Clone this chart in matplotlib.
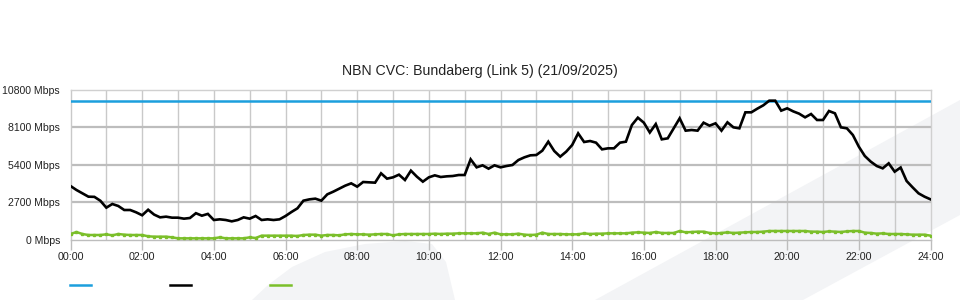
import numpy as np
import matplotlib
matplotlib.use("Agg")
import matplotlib.pyplot as plt
from matplotlib.lines import Line2D
from matplotlib.patches import Polygon

plt.rcParams['font.family'] = ['Liberation Sans', 'DejaVu Sans']

title = "NBN CVC: Bundaberg (Link 5) (21/09/2025)"

# sample times in minutes since midnight (10-minute samples)
minutes = list(range(0, 24 * 60 + 1, 10))

capacity_mbps = 10000

traffic_mbps = [
    3865, 3576, 3335, 3094, 3080, 2800,
    2300, 2565, 2420, 2131, 2131, 1962,
    1750, 2150, 1800, 1600, 1650, 1577,
    1577, 1505, 1553, 1900, 1720, 1850,
    1409, 1457, 1409, 1312, 1409, 1600,
    1505, 1697, 1409, 1457, 1409, 1457,
    1697, 1987, 2252, 2805, 2900, 2950,
    2805, 3263, 3455, 3672, 3889, 4057,
    3817, 4154, 4130, 4106, 4780, 4395,
    4491, 4684, 4298, 4973, 4539, 4178,
    4491, 4635, 4515, 4563, 4587, 4659,
    4659, 5791, 5213, 5358, 5117, 5358,
    5213, 5309, 5382, 5743, 5936, 6080,
    6104, 6417, 7067, 6393, 5984, 6345,
    6826, 7669, 7043, 7115, 6995, 6513,
    6586, 6586, 6995, 7067, 8271, 8801,
    8440, 7730, 8340, 7236, 7308, 8031,
    8753, 7862, 7910, 7862, 8440, 8223,
    8392, 7862, 8464, 8103, 8031, 9187,
    9187, 9452, 9692, 10029, 10029, 9307,
    9476, 9259, 9090, 8825, 9066, 8633,
    8633, 9283, 9114, 8103, 8031, 7549,
    6706, 6032, 5623, 5310, 5141, 5502,
    4900, 5200, 4226, 3769, 3335, 3094,
    2902,
]

other_mbps = [
    397, 540, 397, 325, 325, 325,
    373, 301, 397, 349, 325, 325,
    325, 229, 205, 205, 205, 157,
    84, 84, 84, 84, 84, 84,
    84, 157, 84, 84, 84, 84,
    157, 108, 277, 277, 277, 277,
    277, 277, 253, 325, 349, 349,
    277, 325, 325, 301, 373, 397,
    373, 373, 349, 373, 397, 397,
    301, 373, 397, 397, 397, 397,
    397, 421, 397, 421, 421, 445,
    445, 445, 445, 494, 397, 494,
    373, 373, 373, 421, 349, 325,
    349, 494, 397, 397, 397, 373,
    373, 373, 445, 397, 421, 421,
    445, 445, 445, 445, 494, 518,
    494, 470, 542, 470, 470, 470,
    614, 518, 542, 566, 566, 470,
    445, 470, 518, 470, 494, 518,
    542, 542, 566, 614, 614, 614,
    614, 614, 614, 614, 566, 566,
    542, 590, 566, 542, 590, 614,
    614, 494, 470, 421, 445, 397,
    397, 397, 373, 349, 349, 349,
    277,
]

x_tick_labels = ["00:00", "02:00", "04:00", "06:00", "08:00", "10:00", "12:00",
                 "14:00", "16:00", "18:00", "20:00", "22:00", "24:00"]
y_ticks = [0, 2700, 5400, 8100, 10800]
y_tick_labels = [f"{v} Mbps" for v in y_ticks]

BLUE = "#1c9fdd"
BLACK = "#000000"
GREEN = "#7bbf2a"
WM = "#f3f4f6"

hours = np.array(minutes) / 60.0

W, H = 960, 300
fig = plt.figure(figsize=(W / 100, H / 100), dpi=100)
fig.patch.set_facecolor("white")

def fx(px):
    return px / W

def fy(py):
    return 1 - py / H

# background watermark shapes
blob = [(252, 300), (268, 285), (292, 267), (325, 252), (365, 244), (405, 241),
        (432, 244), (446, 262), (455, 300)]
band = [(595, 300), (960, 100), (960, 215), (803, 300)]
for shape in (blob, band):
    fig.patches.append(Polygon([(fx(a), fy(b)) for a, b in shape], closed=True,
                               transform=fig.transFigure, facecolor=WM,
                               edgecolor="none", zorder=-10))

ax = fig.add_axes([fx(70.5), fy(239.5), fx(860), 149.5 / H])
ax.set_facecolor("none")

ax.set_xlim(0, 24)
ax.set_ylim(0, 10800)

# grid
for h in range(1, 24):
    ax.axvline(h, color="#c9c9c9", lw=1.0, zorder=1)
for v in y_ticks[1:-1]:
    ax.axhline(v, color="#bdbdbd", lw=1.6, zorder=1)

ax.plot(hours, [capacity_mbps] * len(hours), color=BLUE, lw=1.8, zorder=3)
ax.plot(hours, traffic_mbps, color=BLACK, lw=1.9, zorder=4,
        solid_joinstyle="miter")
ax.plot(hours, other_mbps, color=GREEN, lw=1.8, marker="s", ms=1.8,
        mec=GREEN, mfc=GREEN, zorder=3)

for side in ("top", "right", "left"):
    ax.spines[side].set_color("#d0d0d0")
    ax.spines[side].set_linewidth(1.0)
ax.spines["left"].set_color("#c9c9c9")
ax.spines["bottom"].set_color("#bdbdbd")
ax.spines["bottom"].set_linewidth(1.0)

ax.set_xticks(range(0, 25, 2))
ax.set_xticklabels(x_tick_labels)
ax.tick_params(axis="x", length=7.5, width=1.0, color="#bdbdbd", pad=1.5,
               labelsize=7.7, labelcolor="#222222")
ax.set_yticks(y_ticks)
ax.set_yticklabels(y_tick_labels)
ax.tick_params(axis="y", length=0, pad=7.5, labelsize=7.6, labelcolor="#222222")

fig.text(0.5, fy(71), title, ha="center", va="center", fontsize=10.2,
         color="#222222")

# legend samples (no labels)
for x0, c in ((70, BLUE), (170, BLACK), (270, GREEN)):
    fig.add_artist(Line2D([fx(x0), fx(x0 + 21)], [fy(285), fy(285)],
                          color=c, lw=1.8, transform=fig.transFigure))

fig.savefig("out.png", dpi=100, facecolor="white")
